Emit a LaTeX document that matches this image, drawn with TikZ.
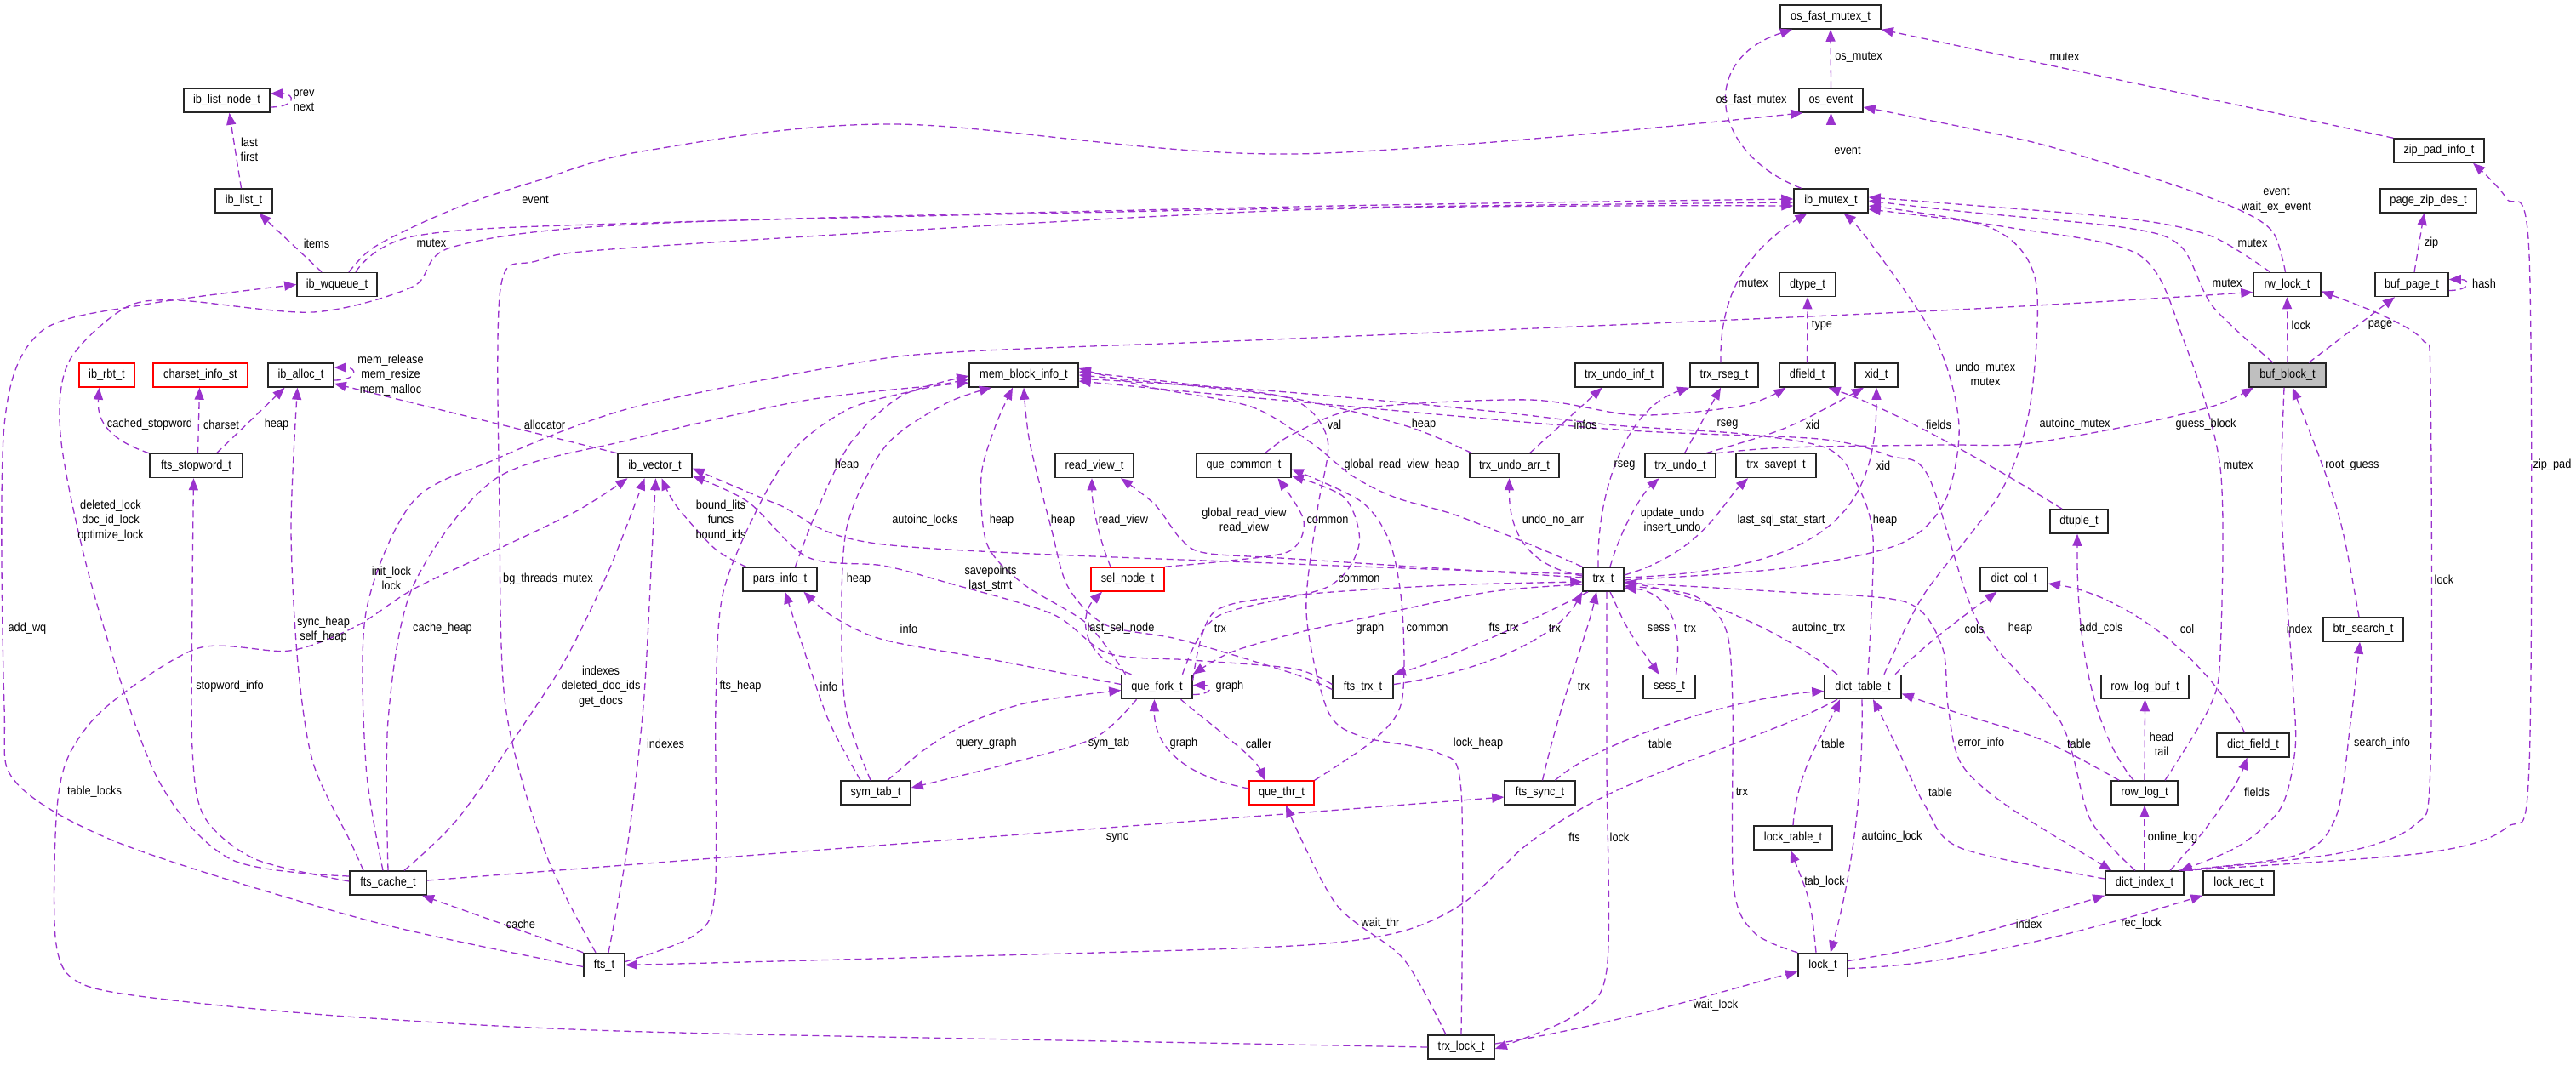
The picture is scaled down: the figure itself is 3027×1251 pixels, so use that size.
\documentclass[tikz,border=0pt]{standalone}
\usepackage{fontspec}
\setmainfont{Liberation Sans}[FakeStretch=0.88]
\usetikzlibrary{arrows.meta}
\definecolor{ec}{HTML}{9A32CD}
\begin{document}
\begin{tikzpicture}[x=1pt,y=-1pt,
  every node/.style={font=\fontsize{14.5}{17.5}\selectfont},
  bx/.style={draw=black!85, line width=1.5pt, fill=white, minimum height=28pt, inner sep=0pt},
  bxr/.style={bx, draw=red},
  bxg/.style={bx, fill=black!25},
  lbl/.style={inner sep=0pt, align=center},
  edg/.style={draw=ec, line width=1.3pt, dash pattern=on 8pt off 5pt, -{Triangle[length=14pt,width=11pt]}}]
\fill[white] (0,0) rectangle (3027,1251);
\useasboundingbox (0,0) rectangle (3027,1251);
% ---------------- nodes
\node[bx, minimum width=101pt] (lnode) at (266.5,118) {ib\_list\_node\_t};
\node[bx, minimum width=67pt] (list) at (286.5,236) {ib\_list\_t};
\node[bx, minimum width=94pt] (wq) at (396,334.5) {ib\_wqueue\_t};
\node[bx, minimum width=118pt] (ofm) at (2151,20) {os\_fast\_mutex\_t};
\node[bx, minimum width=75pt] (oev) at (2151.5,118) {os\_event};
\node[bx, minimum width=87pt] (mtx) at (2151.5,236) {ib\_mutex\_t};
\node[bx, minimum width=106pt] (zpi) at (2866,177) {zip\_pad\_info\_t};
\node[bx, minimum width=113pt] (pzd) at (2853.5,236) {page\_zip\_des\_t};
\node[bx, minimum width=79pt] (rwl) at (2687.5,334.5) {rw\_lock\_t};
\node[bx, minimum width=86pt] (bpg) at (2834,334.5) {buf\_page\_t};
\node[bx, minimum width=66pt] (dty) at (2124,334.5) {dtype\_t};
\node[bxr, minimum width=65pt] (rbt) at (125.5,441) {ib\_rbt\_t};
\node[bxr, minimum width=111pt] (csi) at (235.5,441) {charset\_info\_st};
\node[bx, minimum width=77pt] (alc) at (353.5,441) {ib\_alloc\_t};
\node[bx, minimum width=128pt] (mbi) at (1203,441) {mem\_block\_info\_t};
\node[bx, minimum width=103pt] (uinf) at (1902.5,441) {trx\_undo\_inf\_t};
\node[bx, minimum width=80pt] (rseg) at (2026,441) {trx\_rseg\_t};
\node[bx, minimum width=65pt] (dfl) at (2123.5,441) {dfield\_t};
\node[bx, minimum width=50pt] (xid) at (2205,441) {xid\_t};
\node[bxg, minimum width=90pt] (bbk) at (2688,441) {buf\_block\_t};
\node[bx, minimum width=109pt] (stw) at (230.5,547.5) {fts\_stopword\_t};
\node[bx, minimum width=87pt] (vec) at (769.5,547.5) {ib\_vector\_t};
\node[bx, minimum width=92pt] (rv) at (1286,547.5) {read\_view\_t};
\node[bx, minimum width=111pt] (qc) at (1461.5,547.5) {que\_common\_t};
\node[bx, minimum width=105pt] (uarr) at (1779.5,547.5) {trx\_undo\_arr\_t};
\node[bx, minimum width=83pt] (undo) at (1974.5,547.5) {trx\_undo\_t};
\node[bx, minimum width=94pt] (svp) at (2087,547.5) {trx\_savept\_t};
\node[bx, minimum width=68pt] (dtu) at (2443,613) {dtuple\_t};
\node[bx, minimum width=87pt] (pars) at (916.5,681) {pars\_info\_t};
\node[bxr, minimum width=86pt] (sel) at (1325,681) {sel\_node\_t};
\node[bx, minimum width=48pt] (trx) at (1884,681) {trx\_t};
\node[bx, minimum width=79pt] (dcol) at (2366.5,681) {dict\_col\_t};
\node[bx, minimum width=94pt] (btr) at (2777,740) {btr\_search\_t};
\node[bx, minimum width=83pt] (qf) at (1359.5,807.5) {que\_fork\_t};
\node[bx, minimum width=71pt] (ftrx) at (1601.5,807.5) {fts\_trx\_t};
\node[bx, minimum width=61pt] (sess) at (1961.5,807.5) {sess\_t};
\node[bx, minimum width=90pt] (dtab) at (2189,807.5) {dict\_table\_t};
\node[bx, minimum width=103pt] (rlb) at (2520.5,807.5) {row\_log\_buf\_t};
\node[bx, minimum width=85pt] (dfld) at (2647.5,876) {dict\_field\_t};
\node[bx, minimum width=82pt] (sym) at (1029,932) {sym\_tab\_t};
\node[bxr, minimum width=76pt] (qthr) at (1506,932) {que\_thr\_t};
\node[bx, minimum width=83pt] (fsync) at (1809.5,932) {fts\_sync\_t};
\node[bx, minimum width=78pt] (rlog) at (2520,932) {row\_log\_t};
\node[bx, minimum width=92pt] (ltab) at (2107,985) {lock\_table\_t};
\node[bx, minimum width=90pt] (fcache) at (456,1038) {fts\_cache\_t};
\node[bx, minimum width=92pt] (dind) at (2520,1038) {dict\_index\_t};
\node[bx, minimum width=83pt] (lrec) at (2630.5,1038) {lock\_rec\_t};
\node[bx, minimum width=48pt] (fts) at (710,1134.5) {fts\_t};
\node[bx, minimum width=58pt] (lock) at (2142,1134.5) {lock\_t};
\node[bx, minimum width=78pt] (tlock) at (1717,1231) {trx\_lock\_t};
% ---------------- edges
\draw[edg] ([yshift=-8pt]lnode.east) .. controls +(30,0) and +(30,0) .. ([yshift=8pt]lnode.east);
\draw[edg] ([xshift=-3pt]list.north) -- ([xshift=3pt]lnode.south);
\draw[edg] ([xshift=-18pt]wq.north) -- ([xshift=18pt]list.south);
\draw[edg] plot[smooth,tension=.55] coordinates {([xshift=14pt]wq.north) (436,293) (485,267) (548,240) (630,213) (760,177) (1050,146) (1520,181) ([xshift=5pt]oev.south west)};
\draw[edg] plot[smooth,tension=.55] coordinates {([xshift=22pt]wq.north) (490,277) (760,262) (1520,245) ([yshift=-2pt]mtx.west)};
\draw[edg] plot[smooth,tension=.5] coordinates {([yshift=-2pt]fts.west) (436,1083) (145,993) (19,920) (5,830) (5,500) (48,390) (170,358) (wq.west)};
\draw[edg] plot[smooth,tension=.5] coordinates {([yshift=8pt]fcache.west) (271,1010) (184,913) (111,700) (72,520) (80,427) (145,363) (208,353) (368,367) (485,337) (533,290) (760,263) (1520,243) ([yshift=2pt]mtx.west)};
\draw[edg] plot[smooth,tension=.5] coordinates {([xshift=-10pt]fts.north) (640,1000) (594,830) (587,600) (588,340) (630,307) (760,290) (1520,247) ([yshift=-6pt]mtx.west)};
\draw[edg] ([yshift=-6pt]alc.east) .. controls +(28,0) and +(28,0) .. ([yshift=9pt]alc.east);
\draw[edg] (stw.north west) .. controls (122,515) and (114,490) .. ([xshift=-9pt]rbt.south);
\draw[edg] ([xshift=2pt]stw.north) -- ([xshift=-1pt]csi.south);
\draw[edg] ([xshift=24pt]stw.north) -- ([xshift=-19pt]alc.south);
\draw[edg] (vec.north west) -- ([yshift=-10pt]alc.east);
\draw[edg] plot[smooth,tension=.5] coordinates {([yshift=2pt]fcache.west) (300,1010) (240,960) (226,880) (226,700) ([xshift=-3pt]stw.south)};
\draw[edg] plot[smooth,tension=.5] coordinates {([xshift=-29pt]fcache.north) (412,990) (368,897) (350,780) (342,620) ([xshift=-4pt]alc.south)};
\draw[edg] plot[smooth,tension=.5] coordinates {([xshift=-6pt]fcache.north) (430,900) (430,720) (485,590) (582,540) (740,480) (1004,427) (1138,413) (1520,398) (2280,365) ([yshift=-9pt]rwl.west)};
\draw[edg] plot[smooth,tension=.5] coordinates {(fcache.north) (456,847) (485,690) (582,563) (740,517) (950,470) ([yshift=-9pt]mbi.west)};
\draw[edg] plot[smooth,tension=.5] coordinates {([xshift=19pt]fcache.north) (540,960) (630,830) (669,767) (717,667) ([xshift=-12pt]vec.south)};
\draw[edg] plot[smooth,tension=.5] coordinates {([xshift=5pt]fts.north) (737,997) (756,830) (766,650) ([xshift=1pt]vec.south)};
\draw[edg] plot[smooth,tension=.5] coordinates {(tlock.west) (1520,1228) (760,1213) (436,1197) (213,1177) (97,1157) (66,1110) (66,963) (80,890) (126,830) (233,762) (340,765) (417,737) (485,693) (582,647) (679,600) ([xshift=-32pt]vec.south)};
\draw[edg] plot[smooth,tension=.5] coordinates {([xshift=-40pt]pars.north) (840,645) (795,595) ([xshift=8pt]vec.south)};
\draw[edg] plot[smooth,tension=.5] coordinates {([yshift=4pt]fts.east) (815,1100) (840,1050) (841,830) (849,700) (889,600) (934,527) (999,480) (1080,458) ([yshift=-5pt]mbi.west)};
\draw[edg] plot[smooth,tension=.5] coordinates {([xshift=18pt]pars.north) (960,600) (1000,520) (1060,465) ([yshift=-1pt]mbi.west)};
\draw[edg] plot[smooth,tension=.5] coordinates {([xshift=-6pt]sym.north) (995,840) (989,750) (995,620) (1040,525) (1110,475) ([xshift=-38pt]mbi.south)};
\draw[edg] plot[smooth,tension=.5] coordinates {([xshift=-18pt]sym.north) (975,850) (950,780) ([xshift=6pt]pars.south)};
\draw[edg] plot[smooth,tension=.5] coordinates {([yshift=3pt]qf.west) (1163,775) (1038,752) (979,725) ([xshift=28pt]pars.south)};
\draw[edg] plot[smooth,tension=.5] coordinates {([xshift=-37pt]qf.north) (1277,733) (1203,687) (1160,640) (1153,560) (1170,500) ([xshift=-13pt]mbi.south)};
\draw[edg] plot[smooth,tension=.5] coordinates {([yshift=-3pt]ftrx.west) (1520,792) (1387,752) (1300,735) (1255,690) (1235,620) (1210,520) (mbi.south)};
\draw[edg] plot[smooth,tension=.5] coordinates {([yshift=6pt]trx.west) (1520,663) (1038,640) (914,593) ([yshift=-3pt]vec.east)};
\draw[edg] plot[smooth,tension=.5] coordinates {([yshift=3pt]ftrx.west) (1520,786) (1400,776) (1302,768) (1237,722) (1113,685) (1038,665) (949,655) (879,590) ([yshift=-12pt]vec.east)};
\draw[edg] plot[smooth,tension=.5] coordinates {([yshift=2pt]trx.west) (1520,657) (1416,650) (1387,633) (1357,593) ([xshift=31pt]rv.south)};
\draw[edg] ([xshift=-20pt]sel.north) .. controls (1290,630) and (1283,590) .. ([xshift=-3pt]rv.south);
\draw[edg] plot[smooth,tension=.5] coordinates {(sel.north east) (1436,660) (1515,648) (1532,612) ([xshift=40pt]qc.south)};
\draw[edg] plot[smooth,tension=.5] coordinates {([xshift=30pt]qf.north) (1430,725) (1560,690) (1597,640) (1580,585) ([yshift=-12pt]qc.east)};
\draw[edg] plot[smooth,tension=.5] coordinates {(qthr.north east) (1614,870) (1647,825) (1648,720) (1634,640) (1600,590) ([yshift=-4pt]qc.east)};
\draw[edg] plot[smooth,tension=.5] coordinates {([yshift=8pt]qf.east) (1426,720) (1520,700) (1700,688) ([yshift=-3pt]trx.west)};
\draw[edg] plot[smooth,tension=.5] coordinates {([yshift=-6pt]trx.west) (1749,696) (1600,727) (1520,745) (1446,767) (qf.north east)};
\draw[edg] ([yshift=-9pt]qf.east) .. controls +(24,0) and +(24,0) .. ([yshift=2pt]qf.east);
\draw[edg] ([xshift=-30pt]qf.north) .. controls (1265,770) and (1270,720) .. ([xshift=-30pt]sel.south);
\draw[edg] plot[smooth,tension=.5] coordinates {([xshift=-24pt]qf.south) (1287,867) (1188,897) ([yshift=6pt]sym.east)};
\draw[edg] plot[smooth,tension=.5] coordinates {([xshift=14pt]sym.north) (1088,880) (1138,850) (1208,826) ([yshift=-4pt]qf.west)};
\draw[edg] ([yshift=5pt]qthr.west) .. controls (1380,910) and (1356,870) .. ([xshift=-3pt]qf.south);
\draw[edg] ([xshift=28pt]qf.south) .. controls (1420,850) and (1475,890) .. ([xshift=-20pt]qthr.north);
\draw[edg] plot[smooth,tension=.5] coordinates {([xshift=-18pt]tlock.north) (1649,1127) (1570,1063) ([xshift=5pt]qthr.south)};
\draw[edg] ([yshift=3pt]fcache.east) -- ([yshift=-5pt]fsync.west);
\draw[edg] ([xshift=3pt]fsync.north) .. controls (1835,820) and (1865,745) .. ([xshift=-8pt]trx.south);
\draw[edg] ([xshift=18pt]fsync.north) .. controls (1880,870) and (2040,820) .. ([yshift=-5pt]dtab.west);
\draw[edg] plot[smooth,tension=.5] coordinates {([xshift=-30pt]dtab.south) (2100,850) (1898,930) (1798,990) (1719,1062) (1639,1097) (1500,1113) (1100,1125) (fts.east)};
\draw[edg] plot[smooth,tension=.5] coordinates {(tlock.north) (1717,930) (1690,885) (1600,866) (1560,835) (1535,720) (1548,600) (1560,517) (1520,470) (1400,452) ([yshift=4pt]mbi.east)};
\draw[edg] plot[smooth,tension=.5] coordinates {(trx.north west) (1798,640) (1709,605) (1640,585) (1590,560) (1540,520) (1470,478) (1350,455) ([yshift=8pt]mbi.east)};
\draw[edg] plot[smooth,tension=.5] coordinates {([xshift=-50pt]uarr.north) (1650,500) (1500,465) (mbi.east)};
\draw[edg] plot[smooth,tension=.5] coordinates {([xshift=6pt]dtab.north) (2201,633) (2181,567) (2147,527) (2047,510) (1898,500) (1749,483) (1500,460) ([yshift=-4pt]mbi.east)};
\draw[edg] plot[smooth,tension=.5] coordinates {([xshift=-11pt]dind.north) (2456,963) (2421,848) (2325,733) (2266,560) (2221,536) (2137,516) (1900,505) (1500,470) ([yshift=-7pt]mbi.east)};
\draw[edg] plot[smooth,tension=.5] coordinates {([xshift=4pt]trx.south) (1888,900) (1888,1140) (1848,1195) ([yshift=-2pt]tlock.east)};
\draw[edg] ([yshift=4pt]tlock.east) .. controls (1900,1205) and (2040,1160) .. ([yshift=-8pt]lock.west);
\draw[edg] plot[smooth,tension=.5] coordinates {(lock.north west) (2062,1097) (2037,1040) (2036,830) (2028,740) (1990,700) ([yshift=-8pt]trx.east)};
\draw[edg] ([xshift=-8pt]lock.north) .. controls (2128,1060) .. ([xshift=-3pt]ltab.south);
\draw[edg] ([xshift=-1pt]dtab.south) .. controls (2190,950) and (2170,1050) .. ([xshift=9pt]lock.north);
\draw[edg] (ltab.north) .. controls (2112,900) and (2150,850) .. ([xshift=-27pt]dtab.south);
\draw[edg] ([yshift=5pt]lock.east) .. controls (2300,1110) and (2400,1075) .. (dind.south west);
\draw[edg] ([yshift=-4pt]lock.east) .. controls (2300,1135) and (2450,1095) .. (lrec.south west);
\draw[edg] ([xshift=-30pt]dtab.north) .. controls (2100,745) and (2000,700) .. ([yshift=-3pt]trx.east);
\draw[edg] ([xshift=8pt]trx.south) .. controls (1912,740) .. ([xshift=-12pt]sess.north);
\draw[edg] ([xshift=8pt]sess.north) .. controls (1980,720) and (1950,695) .. ([yshift=-10pt]trx.east);
\draw[edg] ([xshift=-18pt]trx.south) .. controls (1800,730) and (1700,775) .. (ftrx.north east);
\draw[edg] ([yshift=3pt]ftrx.east) .. controls (1740,790) and (1830,750) .. (trx.south west);
\draw[edg] ([yshift=4pt]trx.west) .. controls (1790,665) and (1773,620) .. ([xshift=-6pt]uarr.south);
\draw[edg] ([xshift=-6pt]trx.north) .. controls (1876,580) and (1910,480) .. (rseg.south west);
\draw[edg] ([xshift=8pt]trx.north) .. controls (1905,620) and (1930,580) .. ([xshift=-25pt]undo.south);
\draw[edg] ([yshift=5pt]trx.east) .. controls (2000,650) and (2025,590) .. ([xshift=-33pt]svp.south);
\draw[edg] ([yshift=2pt]trx.east) .. controls (2150,670) and (2205,600) .. (xid.south);
\draw[edg] ([xshift=30pt]undo.north) .. controls (2100,505) .. ([xshift=-15pt]xid.south);
\draw[edg] ([xshift=5pt]undo.north) -- ([xshift=-4pt]rseg.south);
\draw[edg] ([xshift=18pt]uarr.north) -- ([xshift=-20pt]uinf.south);
\draw[edg] plot[smooth,tension=.5] coordinates {(undo.north east) (2100,526) (2280,523) (2377,522) (2505,500) (2602,477) ([xshift=-40pt]bbk.south)};
\draw[edg] ([xshift=-4pt]rseg.north) .. controls (2020,340) and (2060,290) .. ([xshift=-28pt]mtx.south);
\draw[edg] plot[smooth,tension=.5] coordinates {([yshift=-1pt]trx.east) (2097,668) (2231,640) (2285,590) (2302,500) (2275,400) (2196,283) ([xshift=15pt]mtx.south)};
\draw[edg] plot[smooth,tension=.5] coordinates {([xshift=25pt]dtab.north) (2260,700) (2350,580) (2385,480) (2392,330) (2340,268) ([yshift=-6pt]mtx.east)};
\draw[edg] plot[smooth,tension=.5] coordinates {([xshift=-20pt]rwl.north) (2597,277) (2500,257) (2300,240) ([yshift=4pt]mtx.east)};
\draw[edg] plot[smooth,tension=.5] coordinates {([xshift=-17pt]bbk.north) (2600,360) (2563,290) (2500,268) (2300,248) (mtx.east)};
\draw[edg] plot[smooth,tension=.5] coordinates {([xshift=24pt]rlog.north) (2597,830) (2609,767) (2609,550) (2566,400) (2514,300) (2358,267) ([yshift=-10pt]mtx.east)};
\draw[edg] plot[smooth,tension=.5] coordinates {([xshift=-30pt]rlog.north) (2400,870) (2300,838) ([yshift=-8pt]dtab.east)};
\draw[edg] plot[smooth,tension=.5] coordinates {([yshift=5pt]dind.west) (2304,997) (2262,947) (2225,870) ([xshift=12pt]dtab.south)};
\draw[edg] ([xshift=38pt]dtab.north) .. controls (2270,750) and (2320,715) .. ([xshift=-20pt]dcol.south);
\draw[edg] ([xshift=-10pt]dfld.north) .. controls (2600,780) and (2500,700) .. ([yshift=-5pt]dcol.east);
\draw[edg] ([xshift=-13pt]rlog.north) .. controls (2460,860) and (2440,760) .. ([xshift=-2pt]dtu.south);
\draw[edg] ([xshift=-20pt]dtu.north) .. controls (2330,540) and (2220,480) .. ([xshift=25pt]dfl.south);
\draw[edg] plot[smooth,tension=.5] coordinates {([xshift=25pt]qc.north) (1520,510) (1600,480) (1798,470) (1923,488) (2047,477) ([xshift=-25pt]dfl.south)};
\draw[edg] (dfl.north) -- (dty.south);
\draw[edg] (rlog.north) -- (rlb.south);
\draw[edg] (dind.north) -- (rlog.south);
\draw[edg] ([xshift=30pt]dind.north) .. controls (2600,970) and (2630,920) .. ([xshift=-7pt]dfld.south);
\draw[edg] plot[smooth,tension=.5] coordinates {([xshift=40pt]dind.north) (2700,1005) (2745,960) (2762,850) ([xshift=-4pt]btr.south)};
\draw[edg] plot[smooth,tension=.5] coordinates {([xshift=-4pt]bbk.south) (2681,600) (2694,800) (2697,880) (2680,950) (2630,995) ([xshift=42pt]dind.north)};
\draw[edg] plot[smooth,tension=.5] coordinates {([xshift=44pt]dind.north) (2749,1003) (2837,970) (2856,900) (2856,450) (2847,400) (2798,370) ([yshift=-8pt]rwl.east)};
\draw[edg] plot[smooth,tension=.5] coordinates {([xshift=46pt]dind.north) (2847,1003) (2945,973) (2972,900) (2972,300) (2945,233) ([xshift=40pt]zpi.south)};
\draw[edg] ([xshift=-5pt]btr.north) .. controls (2750,600) .. ([xshift=6pt]bbk.south);
\draw[edg] (bbk.north) -- (rwl.south);
\draw[edg] ([xshift=25pt]bbk.north) -- ([xshift=-20pt]bpg.south);
\draw[edg] ([xshift=3pt]bpg.north) -- ([xshift=-5pt]pzd.south);
\draw[edg] ([yshift=-7pt]bpg.east) .. controls +(26,0) and +(26,0) .. ([yshift=6pt]bpg.east);
\draw[edg] plot[smooth,tension=.5] coordinates {([xshift=-2pt]rwl.north) (2671,273) (2632,247) (2553,217) (2400,170) (2260,140) ([yshift=-8pt]oev.east)};
\draw[edg] (zpi.north west) -- (ofm.south east);
\draw[edg] (oev.north) -- (ofm.south);
\draw[edg] (mtx.north) -- (oev.south);
\draw[edg] ([xshift=-35pt]mtx.north) .. controls (2010,180) and (1995,70) .. ([xshift=-45pt]ofm.south);
\draw[edg] plot[smooth,tension=.5] coordinates {([yshift=-4pt]trx.east) (2097,696) (2240,708) (2282,760) (2289,830) (2304,897) (2358,947) ([xshift=8pt]dind.north west)};
\draw[edg] (fts.north west) -- ([xshift=40pt]fcache.south);
% ---------------- labels
\node[lbl] (l1) at (357,118) {prev\\next};
\node[lbl] (l2) at (293,176) {last\\first};
\node[lbl] (l3) at (372,286) {items};
\node[lbl] (l4) at (629,235) {event};
\node[lbl] (l5) at (507,286) {mutex};
\node[lbl] (l6) at (2171,177) {event};
\node[lbl] (l7) at (2184,67) {os\_mutex};
\node[lbl] (l8) at (2058,118) {os\_fast\_mutex};
\node[lbl] (l9) at (2426,67) {mutex};
\node[lbl] (l10) at (2675,235) {event\\wait\_ex\_event};
\node[lbl] (l11) at (2647,286) {mutex};
\node[lbl] (l12) at (2617,333) {mutex};
\node[lbl] (l13) at (2857,286) {zip};
\node[lbl] (l14) at (2919,333) {hash};
\node[lbl] (l15) at (2704,382) {lock};
\node[lbl] (l16) at (2797,382) {page};
\node[lbl] (l17) at (2060,333) {mutex};
\node[lbl] (l18) at (2141,382) {type};
\node[lbl] (l19) at (459,441) {mem\_release\\mem\_resize\\mem\_malloc};
\node[lbl] (l20) at (176,499) {cached\_stopword};
\node[lbl] (l21) at (260,499) {charset};
\node[lbl] (l22) at (325,499) {heap};
\node[lbl] (l23) at (640,499) {allocator};
\node[lbl] (l24) at (130,612) {deleted\_lock\\doc\_id\_lock\\optimize\_lock};
\node[lbl] (l25) at (460,680) {init\_lock\\lock};
\node[lbl] (l26) at (644,681) {bg\_threads\_mutex};
\node[lbl] (l27) at (32,739) {add\_wq};
\node[lbl] (l28) at (380,740) {sync\_heap\\self\_heap};
\node[lbl] (l29) at (520,739) {cache\_heap};
\node[lbl] (l30) at (270,807) {stopword\_info};
\node[lbl] (l31) at (706,807) {indexes\\deleted\_doc\_ids\\get\_docs};
\node[lbl] (l32) at (995,547) {heap};
\node[lbl] (l33) at (847,612) {bound\_lits\\funcs\\bound\_ids};
\node[lbl] (l34) at (1087,612) {autoinc\_locks};
\node[lbl] (l35) at (1177,612) {heap};
\node[lbl] (l36) at (1249,612) {heap};
\node[lbl] (l37) at (1320,612) {read\_view};
\node[lbl] (l38) at (1462,612) {global\_read\_view\\read\_view};
\node[lbl] (l39) at (1009,681) {heap};
\node[lbl] (l40) at (1164,680) {savepoints\\last\_stmt};
\node[lbl] (l41) at (1068,739) {info};
\node[lbl] (l42) at (1317,739) {last\_sel\_node};
\node[lbl] (l43) at (1434,739) {trx};
\node[lbl] (l44) at (870,807) {fts\_heap};
\node[lbl] (l45) at (974,807) {info};
\node[lbl] (l46) at (1445,807) {graph};
\node[lbl] (l47) at (1568,499) {val};
\node[lbl] (l48) at (1673,499) {heap};
\node[lbl] (l49) at (1863,499) {infos};
\node[lbl] (l50) at (2030,499) {rseg};
\node[lbl] (l51) at (2130,499) {xid};
\node[lbl] (l52) at (2278,499) {fields};
\node[lbl] (l53) at (1647,547) {global\_read\_view\_heap};
\node[lbl] (l54) at (1909,547) {rseg};
\node[lbl] (l55) at (2213,547) {xid};
\node[lbl] (l56) at (1560,612) {common};
\node[lbl] (l57) at (1825,612) {undo\_no\_arr};
\node[lbl] (l58) at (1965,612) {update\_undo\\insert\_undo};
\node[lbl] (l59) at (2093,612) {last\_sql\_stat\_start};
\node[lbl] (l60) at (2215,612) {heap};
\node[lbl] (l61) at (1597,681) {common};
\node[lbl] (l62) at (1610,739) {graph};
\node[lbl] (l63) at (1677,739) {common};
\node[lbl] (l64) at (1767,739) {fts\_trx};
\node[lbl] (l65) at (1827,739) {trx};
\node[lbl] (l66) at (1949,739) {sess};
\node[lbl] (l67) at (1986,739) {trx};
\node[lbl] (l68) at (2137,739) {autoinc\_trx};
\node[lbl] (l69) at (1861,807) {trx};
\node[lbl] (l70) at (2333,440) {undo\_mutex\\mutex};
\node[lbl] (l71) at (2438,499) {autoinc\_mutex};
\node[lbl] (l72) at (2592,499) {guess\_block};
\node[lbl] (l73) at (2630,547) {mutex};
\node[lbl] (l74) at (2764,547) {root\_guess};
\node[lbl] (l75) at (2999,547) {zip\_pad};
\node[lbl] (l76) at (2872,681) {lock};
\node[lbl] (l77) at (2320,739) {cols};
\node[lbl] (l78) at (2374,739) {heap};
\node[lbl] (l79) at (2469,739) {add\_cols};
\node[lbl] (l80) at (2570,739) {col};
\node[lbl] (l81) at (2702,739) {index};
\node[lbl] (l82) at (782,874) {indexes};
\node[lbl] (l83) at (1159,874) {query\_graph};
\node[lbl] (l84) at (1303,874) {sym\_tab};
\node[lbl] (l85) at (1391,874) {graph};
\node[lbl] (l86) at (1479,874) {caller};
\node[lbl] (l87) at (1313,985) {sync};
\node[lbl] (l88) at (1737,874) {lock\_heap};
\node[lbl] (l89) at (1951,874) {table};
\node[lbl] (l90) at (2154,874) {table};
\node[lbl] (l91) at (2047,931) {trx};
\node[lbl] (l92) at (1850,984) {fts};
\node[lbl] (l93) at (1903,984) {lock};
\node[lbl] (l94) at (2223,984) {autoinc\_lock};
\node[lbl] (l95) at (2144,1037) {tab\_lock};
\node[lbl] (l96) at (1622,1086) {wait\_thr};
\node[lbl] (l97) at (2016,1182) {wait\_lock};
\node[lbl] (l98) at (2328,874) {error\_info};
\node[lbl] (l99) at (2443,874) {table};
\node[lbl] (l100) at (2540,875) {head\\tail};
\node[lbl] (l101) at (2799,874) {search\_info};
\node[lbl] (l102) at (2280,931) {table};
\node[lbl] (l103) at (2652,931) {fields};
\node[lbl] (l104) at (2553,985) {online\_log};
\node[lbl] (l105) at (2384,1086) {index};
\node[lbl] (l106) at (2516,1086) {rec\_lock};
\node[lbl] (l107) at (111,931) {table\_locks};
\node[lbl] (l108) at (612,1086) {cache};
\end{tikzpicture}
\end{document}
